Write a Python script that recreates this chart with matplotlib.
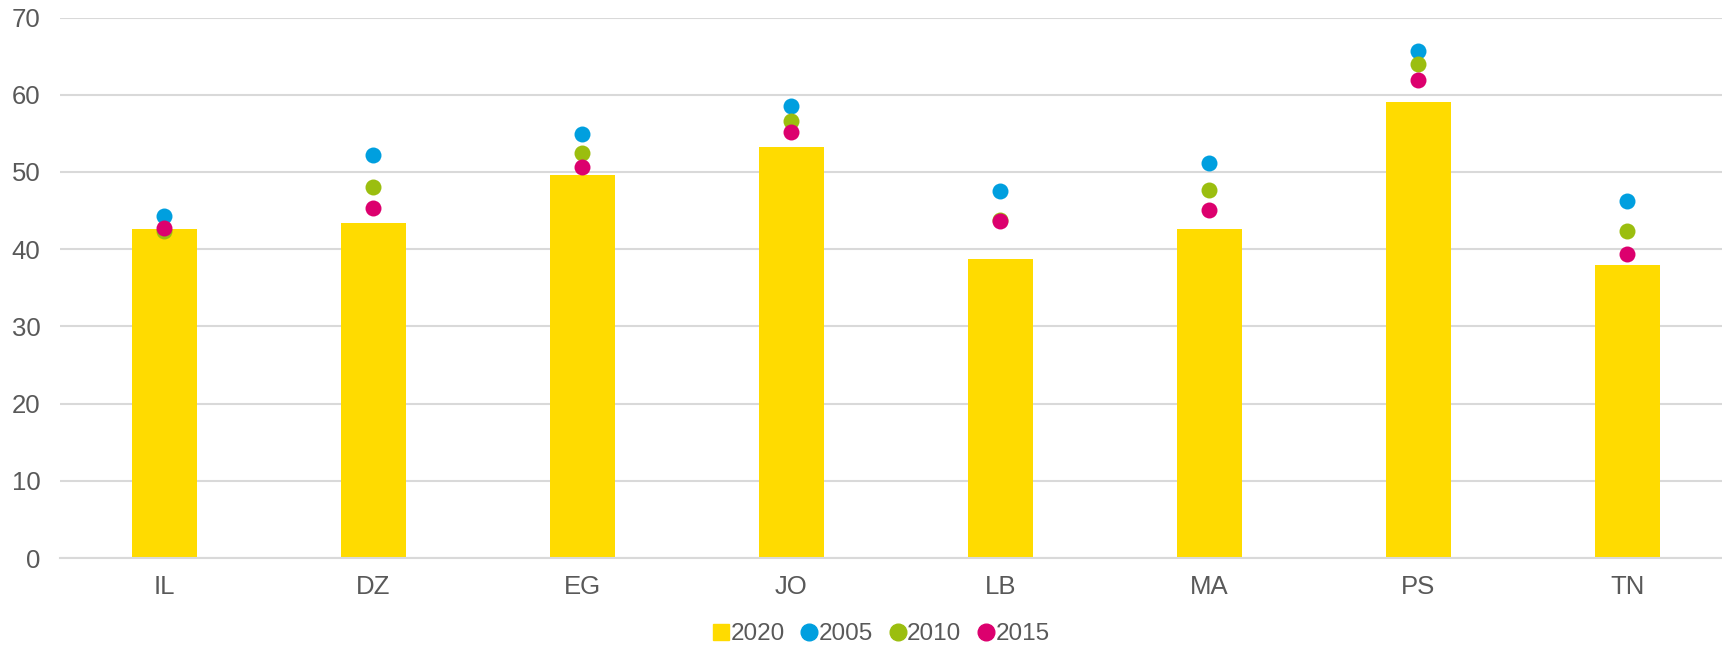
import numpy as np
import matplotlib
matplotlib.use('Agg')
import matplotlib.pyplot as plt
from matplotlib.lines import Line2D

plt.rcParams['font.family'] = ['Liberation Sans', 'DejaVu Sans']

# data
countries = ['IL', 'DZ', 'EG', 'JO', 'LB', 'MA', 'PS', 'TN']
v2020 = [42.6, 43.4, 49.6, 53.2, 38.7, 42.6, 59.1, 37.9]
v2005 = [44.3, 52.2, 54.9, 58.5, 47.5, 51.2, 65.7, 46.3]
v2010 = [42.4, 48.0, 52.5, 56.6, 43.8, 47.7, 64.0, 42.3]
v2015 = [42.8, 45.3, 50.6, 55.2, 43.6, 45.1, 61.9, 39.4]

c2020 = '#FFDB00'
c2005 = '#009FDF'
c2010 = '#9BBE0F'
c2015 = '#DC006E'
txt = '#595959'

fig = plt.figure(figsize=(17.22, 6.46), dpi=100)
ax = fig.add_axes([0.0348, 0.1362, 0.971, 0.8366])

x = np.arange(len(countries))
ax.bar(x, v2020, width=0.315, color=c2020, zorder=2)
ax.plot(x, v2005, 'o', color=c2005, markersize=11.5, markeredgewidth=0, zorder=3)
ax.plot(x, v2010, 'o', color=c2010, markersize=11.5, markeredgewidth=0, zorder=4)
ax.plot(x, v2015, 'o', color=c2015, markersize=11.5, markeredgewidth=0, zorder=5)

ax.set_xlim(-0.5, len(countries) - 0.5)
ax.set_ylim(0, 70)
ax.set_yticks(range(0, 71, 10))
ax.set_xticks(x)
ax.set_xticklabels(countries)
ax.yaxis.grid(True, color='#D9D9D9', linewidth=1.5, zorder=0)
ax.set_axisbelow(True)
for s in ['top', 'right', 'left']:
    ax.spines[s].set_visible(False)
ax.spines['bottom'].set_color('#D9D9D9')
ax.spines['bottom'].set_linewidth(1.5)
ax.tick_params(axis='both', length=0, labelsize=18.5, labelcolor=txt)
ax.tick_params(axis='y', pad=14)
ax.tick_params(axis='x', pad=12)

handles = [
    Line2D([], [], marker='s', linestyle='none', color=c2020, markersize=11),
    Line2D([], [], marker='o', linestyle='none', color=c2005, markersize=12),
    Line2D([], [], marker='o', linestyle='none', color=c2010, markersize=12),
    Line2D([], [], marker='o', linestyle='none', color=c2015, markersize=12),
]
fig.legend(handles, ['2020', '2005', '2010', '2015'], loc='center',
           bbox_to_anchor=(0.512, 0.018), ncol=4, frameon=False,
           fontsize=17.5, labelcolor=txt, handlelength=0.6, handletextpad=0.1,
           columnspacing=0.7, borderpad=0)

fig.savefig('out.png', dpi=100)
